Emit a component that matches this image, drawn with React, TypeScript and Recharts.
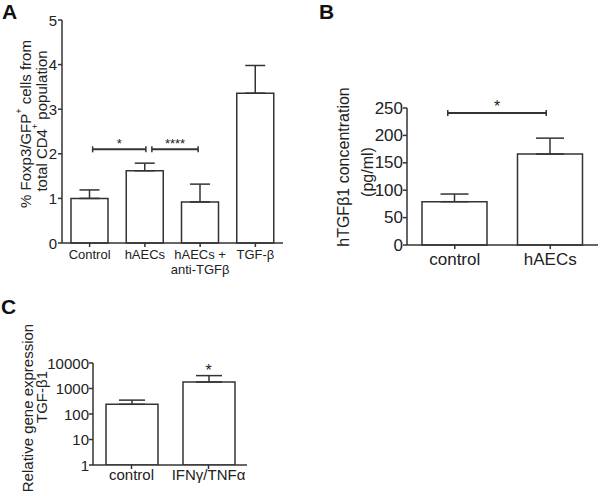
import React from 'react'
import { BarChart, Bar, XAxis, YAxis, ErrorBar, ReferenceLine, ReferenceDot } from 'recharts'

// panel A
const catsA = ['Control', 'hAECs', 'hAECs +\nanti-TGFβ', 'TGF-β']
const meanA = [1.0, 1.62, 0.92, 3.36]
const errA = [0.19, 0.17, 0.4, 0.62]
const ticksA = [0, 1, 2, 3, 4, 5]

// panel B
const catsB = ['control', 'hAECs']
const meanB = [79, 166]
const errB = [14, 29]
const ticksB = [0, 50, 100, 150, 200, 250]

// panel C
const catsC = ['control', 'IFNγ/TNFα']
const meanC = [240, 1800]
const errC = [110, 1400]
const ticksC = [1, 10, 100, 1000, 10000]

const dataA = catsA.map((c, i) => ({ cat: c, v: meanA[i], err: [0, errA[i]] }))
const dataB = catsB.map((c, i) => ({ cat: c, v: meanB[i], err: [0, errB[i]] }))
const dataC = catsC.map((c, i) => ({ cat: c, v: meanC[i], err: [0, errC[i]] }))

const FONT = '"Liberation Sans", Arial, sans-serif'
const INK = '#222'
const LINE = '#333'

const CatTick = (props: any) => {
  const { x, y, payload, fs } = props
  const lines = String(payload.value).split('\n')
  return (
    <text x={x} y={y} textAnchor="middle" fill={INK} style={{ fontSize: fs, fontFamily: FONT }}>
      {lines.map((l, i) => (
        <tspan key={i} x={x} dy={i === 0 ? '0.71em' : '1.15em'}>{l}</tspan>
      ))}
    </text>
  )
}

const NumTick = (props: any) => {
  const { x, y, payload, fs } = props
  return (
    <text x={x} y={y} textAnchor="end" dominantBaseline="central" fill={INK}
      style={{ fontSize: fs, fontFamily: FONT }}>
      {payload.value}
    </text>
  )
}

const Bracket = (props: any) => {
  const { x1, x2, y1, inset, star, fs } = props
  const a = x1 + inset[0]
  const b = x2 - inset[1]
  return (
    <g>
      <line x1={a} x2={b} y1={y1} y2={y1} stroke={LINE} strokeWidth={2} />
      <line x1={a} x2={a} y1={y1 - 3} y2={y1 + 3} stroke={LINE} strokeWidth={1.5} />
      <line x1={b} x2={b} y1={y1 - 3} y2={y1 + 3} stroke={LINE} strokeWidth={1.5} />
      <text x={(a + b) / 2} y={y1 - 1} textAnchor="middle" fill={INK} style={{ fontSize: fs, fontFamily: FONT }}>{star}</text>
    </g>
  )
}

const axisProps = {
  stroke: LINE,
  strokeWidth: 1.5,
  tickLine: { stroke: LINE, strokeWidth: 1.5 },
}

// rotated two-part title with a superscript "+" in between
const Rot = ({ x, y, fs, pre, sup, post }: { x: number; y: number; fs: number; pre: string; sup?: string; post?: string }) => (
  <text transform={`translate(${x},${y}) rotate(-90)`} textAnchor="middle" dominantBaseline="central"
    fill={INK} style={{ fontSize: fs, fontFamily: FONT }}>
    <tspan>{pre}</tspan>
    {sup ? <tspan style={{ fontSize: 9 }} dy={-6}>{sup}</tspan> : null}
    {post ? <tspan dy={sup ? 6 : 0}>{post}</tspan> : null}
  </text>
)

const Titles = () => (
  <svg width={600} height={496} style={{ position: 'absolute', left: 0, top: 0, pointerEvents: 'none' }}>
    <g fill="#111" fontWeight="bold" style={{ fontSize: 21, fontFamily: FONT }}>
      <text x={2} y={19}>A</text>
      <text x={319} y={19}>B</text>
      <text x={1} y={314}>C</text>
    </g>
    <Rot x={25} y={124} fs={15} pre="% Foxp3/GFP" sup="+" post=" cells from" />
    <Rot x={41} y={121} fs={15} pre="total CD4" sup="+" post=" population" />
    <Rot x={343} y={167} fs={16} pre="hTGFβ1 concentration" />
    <Rot x={367} y={172} fs={16} pre="(pg/ml)" />
    <Rot x={27} y={408} fs={15} pre="Relative gene expression" />
    <Rot x={41} y={397} fs={15} pre="TGF-β1" />
  </svg>
)

export default function App() {
  return (
    <div style={{ position: 'absolute', left: 0, top: 0, width: 600, height: 496, background: '#fff', fontFamily: FONT }}>
      <div style={{ position: 'absolute', left: 0, top: 0 }}>
        <BarChart width={300} height={300} data={dataA} margin={{ top: 20, right: 17, left: 0, bottom: 0 }}>
          <XAxis dataKey="cat" {...axisProps} height={57} tickSize={4} tickMargin={3} interval={0}
            tick={<CatTick fs={13} />} />
          <YAxis {...axisProps} width={62} domain={[0, 5]} ticks={ticksA} tickSize={4} tickMargin={1}
            tick={<NumTick fs={15} />} />
          <Bar dataKey="v" fill="#fff" stroke={LINE} strokeWidth={1.5} barSize={37} isAnimationActive={false}>
            <ErrorBar dataKey="err" width={10} stroke={LINE} strokeWidth={1.5} />
          </Bar>
          <ReferenceLine segment={[{ x: catsA[0], y: 2.1 }, { x: catsA[1], y: 2.1 }]}
            shape={(p: any) => <Bracket {...p} inset={[3, -1]} star="*" fs={13} />} />
          <ReferenceLine segment={[{ x: catsA[1], y: 2.1 }, { x: catsA[2], y: 2.1 }]}
            shape={(p: any) => <Bracket {...p} inset={[7, 2]} star="****" fs={13} />} />
        </BarChart>
      </div>
      <div style={{ position: 'absolute', left: 300, top: 0 }}>
        <BarChart width={300} height={300} data={dataB} margin={{ top: 108, right: 2, left: 0, bottom: 0 }}>
          <XAxis dataKey="cat" {...axisProps} height={55} tickSize={4} tickMargin={4} interval={0}
            tick={<CatTick fs={17} />} />
          <YAxis {...axisProps} width={107} domain={[0, 250]} ticks={ticksB} tickSize={4} tickMargin={0}
            tick={<NumTick fs={17} />} />
          <Bar dataKey="v" fill="#fff" stroke={LINE} strokeWidth={1.5} barSize={65} isAnimationActive={false}>
            <ErrorBar dataKey="err" width={14} stroke={LINE} strokeWidth={1.5} />
          </Bar>
          <ReferenceLine segment={[{ x: catsB[0], y: 241 }, { x: catsB[1], y: 241 }]}
            shape={(p: any) => <Bracket {...p} inset={[-7, 4]} star="*" fs={16} />} />
        </BarChart>
      </div>
      <div style={{ position: 'absolute', left: 0, top: 290 }}>
        <BarChart width={300} height={206} data={dataC} margin={{ top: 73, right: 53, left: 0, bottom: 0 }}>
          <XAxis dataKey="cat" {...axisProps} height={31} tickSize={4} tickMargin={0} interval={0}
            tick={<CatTick fs={15} />} />
          <YAxis {...axisProps} width={93} scale="log" type="number" domain={[1, 10000]} allowDataOverflow
            ticks={ticksC} tickSize={4} tickMargin={0}
            tick={<NumTick fs={15} />} />
          <Bar dataKey="v" fill="#fff" stroke={LINE} strokeWidth={1.5} barSize={52} isAnimationActive={false}>
            <ErrorBar dataKey="err" width={13} stroke={LINE} strokeWidth={1.5} />
          </Bar>
          <ReferenceDot x={catsC[1]} y={7000} r={0}
            shape={(p: any) => (
              <text x={p.cx} y={p.cy + 9} textAnchor="middle" fill={INK} style={{ fontSize: 16, fontFamily: FONT }}>*</text>
            )} />
        </BarChart>
      </div>
      <Titles />
    </div>
  )
}
